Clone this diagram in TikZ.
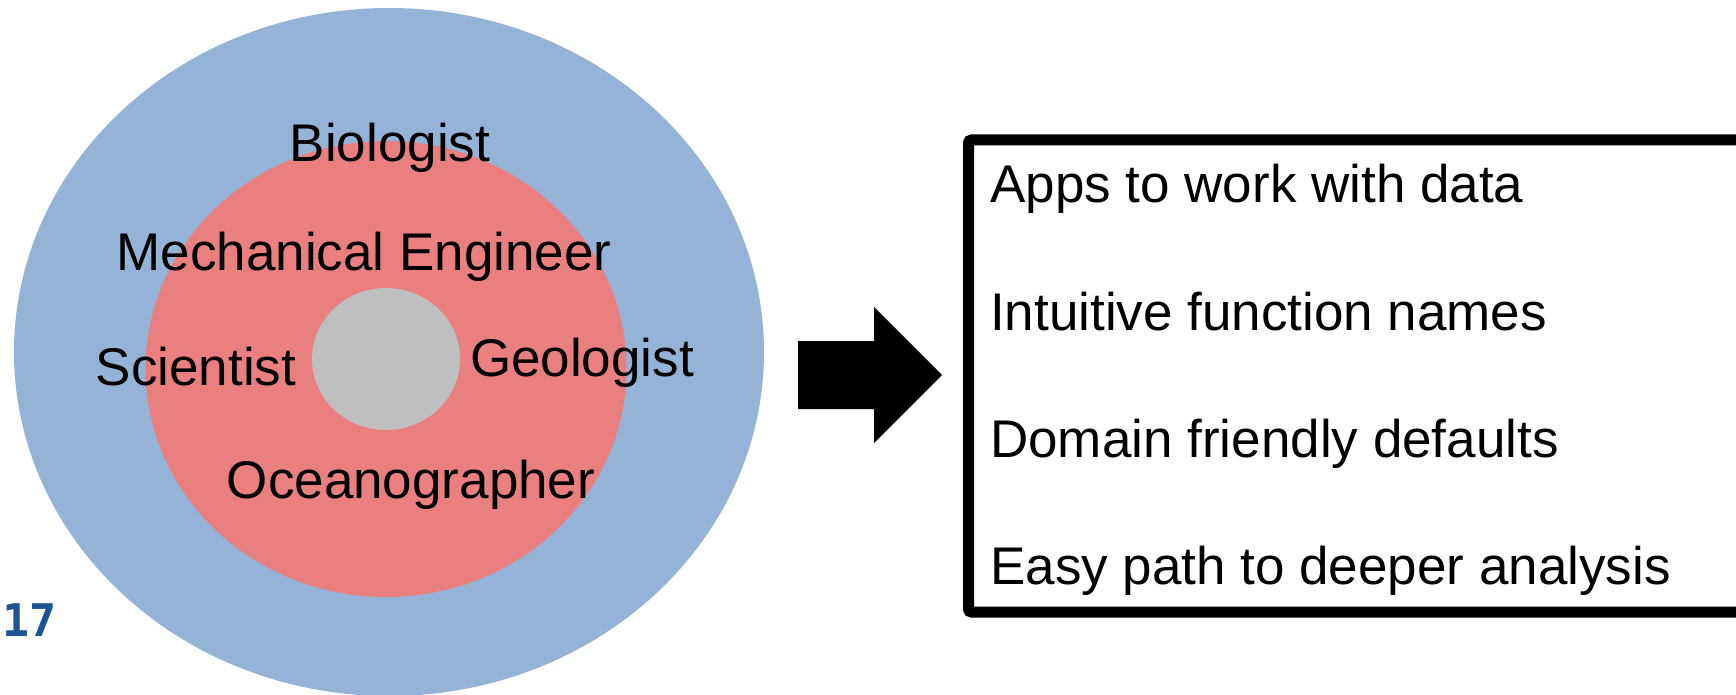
\documentclass[tikz,border=0pt]{standalone}
\usepackage{fontspec}
\setmainfont{Liberation Sans}
\newfontfamily\yearfont{DejaVu Sans Mono}
\usetikzlibrary{shapes.geometric}
\definecolor{outerblue}{RGB}{149,179,215}
\definecolor{midred}{RGB}{233,127,127}
\definecolor{coregrey}{RGB}{191,191,191}
\definecolor{yearblue}{RGB}{28,84,148}
\begin{document}
\begin{tikzpicture}[x=1pt,y=1pt,
  ring/.style={ellipse, inner sep=0pt, draw=none},
  lbl/.style={inner sep=0pt, font=\fontsize{53}{60}\selectfont, anchor=base},
  item/.style={inner sep=0pt, font=\fontsize{53}{60}\selectfont, anchor=base west}]
\useasboundingbox (0,0) rectangle (1736,-695);
\clip (0,0) rectangle (1736,-695);
% rings
\node (outer) [ring, fill=outerblue, minimum width=750pt, minimum height=688pt] at (389,-352) {};
\node (middle) [ring, fill=midred, minimum width=481pt, minimum height=456pt] at (386,-369) {};
\node (core) [ring, fill=coregrey, minimum width=148pt, minimum height=142pt] at (386,-359) {};
% labels
\node (bio) [lbl] at (390,-162) {Biologist};
\node (mech) [lbl] at (364,-270) {Mechanical Engineer};
\node (sci) [lbl] at (196,-385) {Scientist};
\node (geo) [lbl] at (582,-376) {Geologist};
\node (ocean) [lbl] at (411,-498) {Oceanographer};
% year fragment
\node (year) [inner sep=0pt, anchor=base west, text=yearblue,
  font=\yearfont\bfseries\fontsize{45}{50}\selectfont] at (2,-636) {17};
% block arrow
\fill[black] (798,-341) -- (874,-341) -- (874,-307) -- (942,-375)
  -- (874,-443) -- (874,-409) -- (798,-409) -- cycle;
% box
\draw[line width=11pt, rounded corners=3pt] (968.5,-140) rectangle (1770,-612);
\node (apps) [item] at (990,-202) {Apps to work with data};
\node (intu) [item] at (990,-330) {Intuitive function names};
\node (dom) [item] at (990,-457) {Domain friendly defaults};
\node (easy) [item] at (990,-584) {Easy path to deeper analysis};
\end{tikzpicture}
\end{document}
